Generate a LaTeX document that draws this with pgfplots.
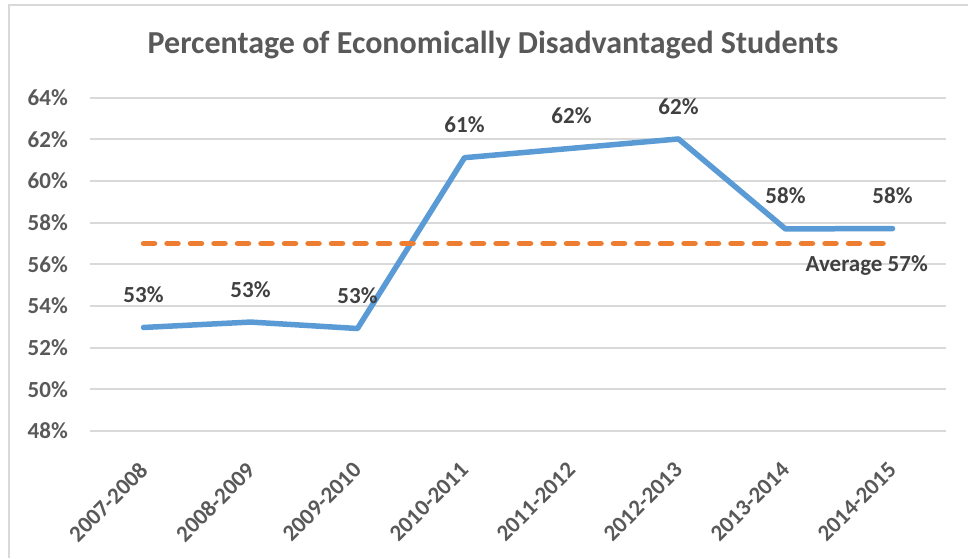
\documentclass[border=0pt]{standalone}
\usepackage{pgfplots}
\pgfplotsset{compat=1.18}
\usepackage{fontspec}
\setmainfont{Carlito}
\definecolor{blueline}{HTML}{5B9BD5}
\definecolor{orangeline}{HTML}{ED7D31}
\definecolor{ticktext}{HTML}{595959}
\definecolor{labeltext}{HTML}{404040}
\definecolor{gridc}{HTML}{D9D9D9}
\begin{document}
\begin{tikzpicture}
\useasboundingbox (0pt,0pt) rectangle (968pt,558pt);
\draw[gridc, line width=2pt] (8.5pt,0pt) -- (8.5pt,553pt) -- (968pt,553pt);
\node[text=ticktext, font=\fontsize{32}{37}\selectfont\bfseries] at (493pt,513pt) {Percentage of Economically Disadvantaged Students};
\begin{axis}[
  at={(90pt,127pt)}, anchor=south west,
  width=856pt, height=333.3pt, scale only axis,
  xmin=-0.5, xmax=7.5, ymin=48, ymax=64,
  axis line style={draw=none},
  xtick={0,1,2,3,4,5,6,7},
  xticklabels={2007-2008,2008-2009,2009-2010,2010-2011,2011-2012,2012-2013,2013-2014,2014-2015},
  ytick={48,50,52,54,56,58,60,62,64},
  yticklabel={\pgfmathprintnumber{\tick}\%},
  major tick length=0pt,
  ymajorgrids, grid style={gridc, line width=2pt},
  tick label style={font=\fontsize{23}{26}\selectfont\bfseries, text=ticktext},
  yticklabel style={anchor=east, inner sep=0pt, xshift=-22pt},
  xticklabel style={rotate=45, anchor=north east, inner sep=0pt, xshift=-25pt, yshift=-17pt},
  /pgf/number format/assume math mode=true,
  clip=false,
]
\addplot[blueline, line width=5.5pt, line join=round, line cap=round,
  point meta=y,
  nodes near coords={\pgfmathprintnumber[fixed,precision=0]{\pgfplotspointmeta}\%},
  nodes near coords style={font=\fontsize{23}{26}\selectfont\bfseries, text=labeltext, anchor=south, inner sep=0pt, yshift=22pt}]
  coordinates {(0,52.97) (1,53.23) (2,52.92) (3,61.12) (4,61.57) (5,62.02) (6,57.70) (7,57.72)};
\addplot[orangeline, line width=5.5pt, line cap=round, dash pattern=on 11pt off 12.5pt]
  coordinates {(0,57) (1,57) (2,57) (3,57) (4,57) (5,57) (6,57) (7,57)};
\node[anchor=base east, inner sep=0pt, xshift=35.5pt, yshift=-28.4pt, text=labeltext, font=\fontsize{23}{26}\selectfont\bfseries] at (axis cs:7,57) {Average 57\%};
\end{axis}
\end{tikzpicture}
\end{document}
